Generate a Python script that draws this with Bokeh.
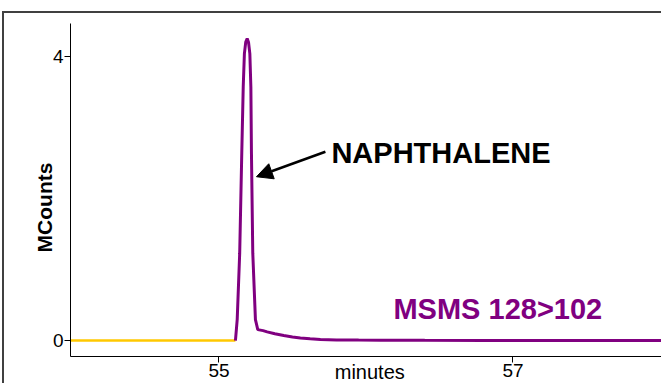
from bokeh.plotting import figure
from bokeh.models import Range1d, FixedTicker, Label, Arrow, NormalHead
from bokeh.embed import file_html
from bokeh.resources import INLINE

# ---- data (minutes, MCounts) ----
pre_time = [53.9, 55.112]
pre_counts = [0.0, 0.0]

peak_time = [55.112, 55.124, 55.141, 55.155, 55.165, 55.173, 55.182, 55.192,
             55.201, 55.210, 55.217, 55.221, 55.230, 55.248, 55.264, 55.30,
             55.328, 55.38, 55.441, 55.50, 55.554, 55.62, 55.690, 55.80,
             55.95, 56.10, 56.40, 56.80, 57.20, 57.60, 58.10]
peak_counts = [0.0, 0.295, 1.23, 2.63, 3.57, 4.04, 4.20, 4.25,
               4.20, 4.04, 3.57, 2.63, 1.23, 0.295, 0.154, 0.14,
               0.122, 0.095, 0.070, 0.050, 0.037, 0.024, 0.014, 0.009,
               0.006, 0.004, 0.003, 0.002, 0.002, 0.001, 0.001]

x_ticks = [55, 57]
y_ticks = [0, 4]

compound_label = "NAPHTHALENE"
compound_xy = (55.765, 2.64)
arrow_from = (55.724, 2.657)
arrow_to = (55.255, 2.306)
trace_label = "MSMS 128>102"
trace_xy = (56.187, 0.44)

FONT = "Liberation Sans"
NBSP = "\u00a0"

p = figure(width=659, height=372, output_backend="svg", toolbar_location=None,
           x_range=Range1d(53.99, 58.024), y_range=Range1d(-0.2246, 4.463),
           min_border_left=66, min_border_right=0, min_border_top=10,
           min_border_bottom=28,
           styles={"margin-left": "2px", "margin-top": "11px",
                   "border-left": "2px solid #404040",
                   "border-top": "2px solid #404040"})
p.outline_line_color = None
p.grid.visible = False
p.background_fill_color = "white"
p.border_fill_color = "white"

for ax in (p.xaxis[0], p.yaxis[0]):
    ax.axis_line_color = "black"
    ax.axis_line_width = 1
    ax.major_tick_line_color = "black"
    ax.major_tick_out = 6
    ax.major_tick_in = 0
    ax.minor_tick_line_color = None
    ax.major_label_text_font = FONT
    ax.major_label_text_font_size = "19px"
    ax.major_label_text_color = "black"
    ax.major_label_standoff = 1
    ax.axis_label_text_font = FONT
    ax.axis_label_text_color = "black"

p.xaxis[0].ticker = FixedTicker(ticks=x_ticks)
p.yaxis[0].ticker = FixedTicker(ticks=y_ticks)

p.xaxis[0].axis_label = NBSP + "minutes"
p.xaxis[0].axis_label_text_font_size = "20px"
p.xaxis[0].axis_label_text_font_style = "normal"
p.xaxis[0].axis_label_standoff = -19

p.yaxis[0].axis_label = "MCounts" + NBSP * 6
p.yaxis[0].axis_label_text_font_size = "21px"
p.yaxis[0].axis_label_text_font_style = "bold"
p.yaxis[0].axis_label_standoff = -6

p.line(pre_time, pre_counts, line_color="#FFC800", line_width=2.5)
p.line(peak_time, peak_counts, line_color="#800080", line_width=3)

p.add_layout(Label(x=compound_xy[0], y=compound_xy[1], text=compound_label,
                   text_font=FONT, text_font_style="bold", text_font_size="29px",
                   text_color="black", text_baseline="alphabetic"))
p.add_layout(Arrow(end=NormalHead(size=16, fill_color="black", line_color="black"),
                   x_start=arrow_from[0], y_start=arrow_from[1],
                   x_end=arrow_to[0], y_end=arrow_to[1],
                   line_color="black", line_width=2.5))
p.add_layout(Label(x=trace_xy[0], y=trace_xy[1], text=trace_label,
                   text_font=FONT, text_font_style="bold", text_font_size="29px",
                   text_color="#800080", text_baseline="alphabetic"))

open("out.html", "w").write(file_html(p, INLINE))
